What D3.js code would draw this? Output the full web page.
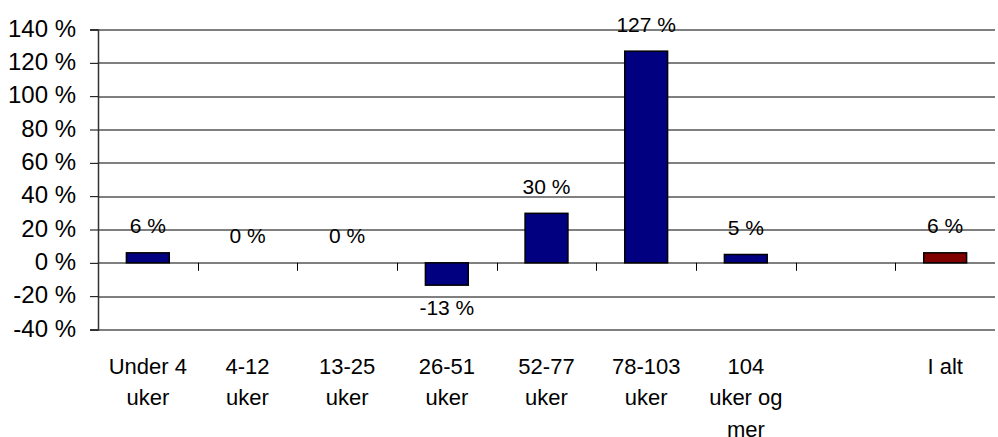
<!DOCTYPE html>
<html>
<head>
<meta charset="utf-8">
<script src="https://cdn.jsdelivr.net/npm/d3@7"></script>
<style>
  body { margin: 0; background: #fff; }
  text { font-family: "Liberation Sans", Arial, sans-serif; fill: #000; }
</style>
</head>
<body>
<svg id="chart" width="998" height="437"></svg>
<script>

/////// Data ///////

var categories = [["Under 4", "uker"], ["4-12", "uker"], ["13-25", "uker"], ["26-51", "uker"],
                  ["52-77", "uker"], ["78-103", "uker"], ["104", "uker og", "mer"], [""], ["I alt"]];
var values = [6, 0, 0, -13.4, 29.7, 127, 5, null, 6];
var barColors = ["#000080", "#000080", "#000080", "#000080", "#000080", "#000080", "#000080", null, "#800000"];
var yTicks = [-40, -20, 0, 20, 40, 60, 80, 100, 120, 140];

/////// Layout ///////

var svg = d3.select("#chart"),
margin = {top: 29.5, right: 3, bottom: 107.5, left: 98},
width = +svg.attr("width") - margin.left - margin.right,
height = +svg.attr("height") - margin.top - margin.bottom;

var g = svg.append("g")
.attr("transform", "translate(" + margin.left + "," + margin.top + ")");

var x = d3.scaleBand().domain(d3.range(categories.length)).range([0, width]).paddingInner(0.57).paddingOuter(0.285),
xb = d3.scaleBand().domain(d3.range(categories.length)).range([0, width]),
y = d3.scaleLinear().domain([-40, 140]).range([height, 0]);

// horizontal gridlines
g.selectAll(".grid")
.data(yTicks)
.enter().append("line")
.attr("x1", 0).attr("x2", width)
.attr("y1", function(d) { return Math.round(y(d)) + 0.5; })
.attr("y2", function(d) { return Math.round(y(d)) + 0.5; })
.attr("stroke", "#000").attr("stroke-width", 1);

// y axis
var yAxis = d3.axisLeft(y).tickValues(yTicks).tickSize(8).tickPadding(14)
.tickFormat(function(d) { return d + " %"; });

var ya = g.append("g").call(yAxis);
ya.select(".domain").attr("stroke", "#333").attr("stroke-width", 1.5);
ya.selectAll("line").attr("stroke", "#000");
ya.selectAll("text").attr("font-size", "24px").attr("font-family", "Liberation Sans, Arial, sans-serif")
.attr("fill", "#000").attr("dy", "0.28em");

// ticks on the zero line at category boundaries
g.selectAll(".xtick")
.data(d3.range(1, categories.length))
.enter().append("line")
.attr("x1", function(i) { return Math.round(xb(i)) + 0.5; })
.attr("x2", function(i) { return Math.round(xb(i)) + 0.5; })
.attr("y1", y(0)).attr("y2", y(0) + 8)
.attr("stroke", "#000");

/////// Bars ///////

var bars = values.map(function(v, i) { return {i: i, v: v, c: barColors[i]}; })
.filter(function(d) { return d.v !== null; });

g.selectAll(".bar")
.data(bars)
.enter().append("rect")
.attr("x", function(d) { return x(d.i); })
.attr("width", x.bandwidth())
.attr("y", function(d) { return y(Math.max(0, d.v)); })
.attr("height", function(d) { return Math.abs(y(d.v) - y(0)); })
.attr("fill", function(d) { return d.c; })
.attr("stroke", "#000").attr("stroke-width", 1.5);

// value labels
g.selectAll(".lbl")
.data(bars)
.enter().append("text")
.attr("x", function(d) { return x(d.i) + x.bandwidth() / 2; })
.attr("y", function(d) { return d.v < 0 ? y(d.v) + 30 : y(d.v) - 19.5; })
.attr("text-anchor", "middle")
.attr("font-size", "21px")
.text(function(d) { return Math.round(d.v) + " %"; });

/////// Category labels ///////

var cl = g.selectAll(".cat")
.data(categories)
.enter().append("text")
.attr("text-anchor", "middle")
.attr("font-size", "22px")
.attr("transform", function(d, i) { return "translate(" + (xb(i) + xb.bandwidth() / 2) + "," + (height + 44) + ")"; });

cl.selectAll("tspan")
.data(function(d) { return d; })
.enter().append("tspan")
.attr("x", 0)
.attr("y", function(d, j) { return j * 31.7; })
.text(function(d) { return d; });

</script>
</body>
</html>
